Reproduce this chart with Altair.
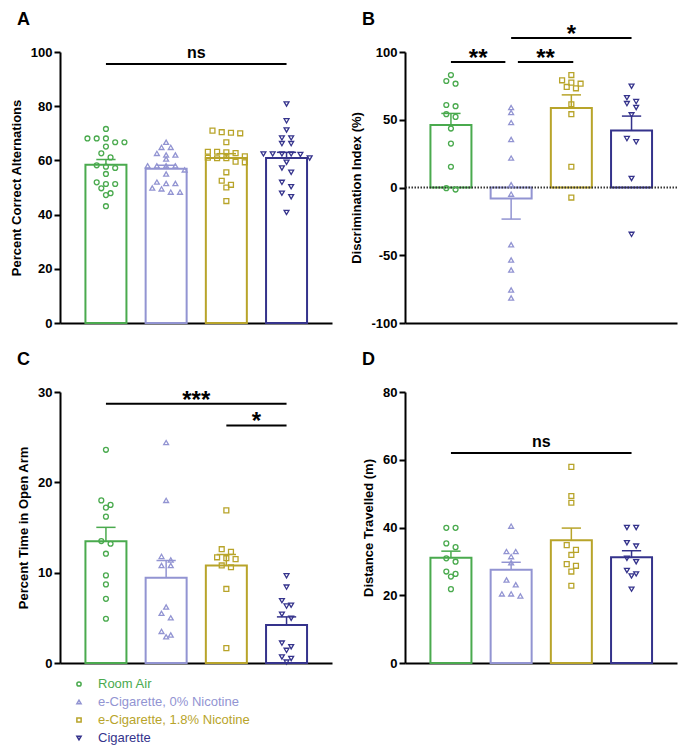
import altair as alt
import pandas as pd

FONT = "Liberation Sans"

groups = ["Room Air", "e-Cigarette, 0% Nicotine", "e-Cigarette, 1.8% Nicotine", "Cigarette"]
colors = ["#4aaa4e", "#9294d2", "#b8a42a", "#35338c"]
shapes = ["circle", "triangle-up", "square", "triangle-down"]

# Panel A: Percent Correct Alternations
a_room = [71.6, 68.1, 66.7, 68.1, 66.7, 68.1, 65.1, 62.6, 61.1, 58.2, 57.2, 57.7, 55.0, 51.3, 51.9, 51.3, 49.7, 47.9, 47.2, 43.1]
a_ecig0 = [66.7, 64.8, 64.8, 62.0, 62.6, 62.0, 60.5, 58.0, 58.0, 58.0, 58.0, 56.5, 55.0, 51.5, 52.0, 51.5, 49.8, 49.5, 48.3, 48.3]
a_ecig18 = [71.0, 70.4, 70.0, 70.2, 66.7, 63.2, 63.0, 62.7, 63.2, 61.5, 61.0, 60.8, 60.8, 59.3, 59.5, 55.6, 52.5, 51.0, 50.0, 45.0]
a_cig = [80.8, 74.6, 71.2, 68.3, 68.3, 66.2, 66.2, 62.4, 62.4, 62.2, 62.4, 62.4, 60.9, 59.3, 57.2, 55.6, 51.9, 50.3, 47.9, 46.6, 40.8]

# Panel B: Discrimination Index (%)
b_room = [83.0, 76.6, 78.6, 60.9, 60.0, 54.1, 52.1, 43.5, 32.4, 15.3, -1.5, -0.5]
b_ecig0 = [59.0, 55.3, 47.9, 35.4, 21.7, 2.0, -4.9, -42.2, -53.5, -60.9, -75.6, -81.5]
b_ecig18 = [83.0, 77.4, 76.6, 79.1, 73.2, 74.2, 61.4, 54.1, 15.3, -7.4]
b_cig = [74.7, 66.3, 61.9, 63.4, 59.0, 53.6, 33.7, 36.1, 6.6, -34.6]

# Panel C: Percent Time in Open Arm
c_room = [23.6, 17.5, 18.0, 17.2, 16.2, 13.5, 13.2, 12.1, 9.7, 8.7, 7.1, 4.9]
c_ecig0 = [24.4, 18.0, 11.4, 11.8, 10.8, 10.8, 6.2, 5.5, 5.0, 3.5, 2.9, 3.1]
c_ecig18 = [16.9, 12.6, 12.3, 11.5, 11.7, 11.6, 10.6, 10.8, 8.2, 1.65]
c_cig = [9.65, 8.4, 6.3, 6.4, 6.9, 5.4, 4.95, 2.2, 1.8, 1.4, 0.5, 0.66, 0.1]

# Panel D: Distance Travelled (m)
d_room = [39.9, 39.9, 34.2, 35.3, 30.9, 29.9, 27.0, 25.5, 26.3, 21.8]
d_ecig0 = [40.4, 32.9, 32.9, 31.4, 29.6, 24.5, 23.1, 19.8, 20.4, 20.4]
d_ecig18 = [57.9, 49.3, 47.3, 34.8, 33.4, 31.9, 29.2, 28.7, 27.0, 22.8]
d_cig = [40.0, 40.0, 34.5, 35.5, 30.9, 29.9, 27.3, 25.7, 26.3, 21.8]

# significance brackets: (from group, to group, level, label)
sig_a = [(0, 3, 95.6, "ns")]
sig_b = [(0, 1, 92.6, "**"), (1, 2, 92.6, "**"), (1, 3, 110.3, "*")]
sig_c = [(0, 3, 28.7, "***"), (2, 3, 26.3, "*")]
sig_d = [(0, 3, 62.0, "ns")]

W, H = 272, 271
XDOM = [-0.68, 3.672]
STEP = W / (XDOM[1] - XDOM[0])
GAP_PX = 9.6
ROW_PX = 5.0
CAP_PX = 10.0


def swarm_offsets(vals, ppu):
    order = sorted(range(len(vals)), key=lambda i: -vals[i])
    rows = []
    for i in order:
        if rows and (vals[rows[-1][0]] - vals[i]) * ppu < ROW_PX:
            rows[-1].append(i)
        else:
            rows.append([i])
    offs = [0.0] * len(vals)
    for r in rows:
        n = len(r)
        for k, i in enumerate(r):
            offs[i] = (k - (n - 1) / 2) * GAP_PX
    return offs


color_scale = alt.Scale(domain=groups, range=colors)
shape_scale = alt.Scale(domain=groups, range=shapes)
xscale = alt.Scale(domain=XDOM, nice=False, zero=False)
xaxis = alt.Axis(domainColor="black", domainWidth=2, ticks=False, labels=False, grid=False)


def make_panel(letter, series, ydom, yvals, ytitle, sigs, gaps=None, zero_line=False):
    ppu = H / (ydom[1] - ydom[0])
    recs = []
    for gi, vals in enumerate(series):
        offs = swarm_offsets(vals, ppu)
        for v, o in zip(vals, offs):
            recs.append({"group": groups[gi], "gi": gi, "value": v, "xp": gi + o / STEP})
    df = pd.DataFrame(recs)

    yscale = alt.Scale(domain=ydom, nice=False, zero=False)
    yaxis = alt.Axis(values=yvals, grid=False, domainColor="black", domainWidth=2,
                     tickColor="black", tickWidth=2, tickSize=6,
                     labelFont=FONT, labelFontSize=13, labelFontWeight="bold",
                     labelColor="black", labelPadding=2, labelExpr="'' + datum.value",
                     titleFont=FONT, titleFontSize=13, titleFontWeight="bold",
                     titleColor="black", titlePadding=7)

    def X(f):
        return alt.X(f, scale=xscale, axis=xaxis, title=None)

    def Y(f):
        return alt.Y(f, scale=yscale, axis=yaxis, title=ytitle)

    col = alt.Color("group:N", scale=color_scale, legend=None)

    bars = alt.Chart(df).mark_bar(fill="white", strokeWidth=2, width=41).encode(
        x=X("gi:Q"), y=Y("mean(value):Q"),
        stroke=alt.Stroke("group:N", scale=color_scale, legend=None))

    err = alt.Chart(df).transform_aggregate(
        m="mean(value)", se="stderr(value)", groupby=["group", "gi"]
    ).transform_calculate(
        hi="datum.m >= 0 ? datum.m + datum.se : datum.m - datum.se",
        l="datum.gi - %f" % (CAP_PX / STEP),
        r="datum.gi + %f" % (CAP_PX / STEP),
    )
    stem = err.mark_rule(strokeWidth=1.5).encode(x=X("gi:Q"), y=Y("m:Q"), y2=alt.Y2("hi:Q"), color=col)
    cap = err.mark_rule(strokeWidth=1.5).encode(x=X("l:Q"), x2=alt.X2("r:Q"), y=Y("hi:Q"), color=col)

    pts = alt.Chart(df).mark_point(filled=False, size=24, strokeWidth=1.3, opacity=1).encode(
        x=X("xp:Q"), y=Y("value:Q"), color=col,
        shape=alt.Shape("group:N", scale=shape_scale, legend=None))

    srec = []
    for k, (g1, g2, lev, lab) in enumerate(sigs):
        d1, d2 = (gaps[k] if gaps else (0, 0))
        x1 = g1 + d1 / STEP
        x2 = g2 + d2 / STEP
        srec.append({"x1": x1, "x2": x2, "xm": (x1 + x2) / 2, "lev": lev, "lab": lab,
                     "kind": "ns" if lab == "ns" else "star"})
    sdf = pd.DataFrame(srec)
    lines = alt.Chart(sdf).mark_rule(strokeWidth=2, color="black").encode(
        x=X("x1:Q"), x2=alt.X2("x2:Q"), y=Y("lev:Q"))
    t_ns = alt.Chart(sdf).transform_filter("datum.kind == 'ns'").mark_text(
        font=FONT, fontSize=16, fontWeight="bold", color="black", dy=-6, baseline="alphabetic"
    ).encode(x=X("xm:Q"), y=Y("lev:Q"), text="lab:N")
    t_st = alt.Chart(sdf).transform_filter("datum.kind == 'star'").mark_text(
        font=FONT, fontSize=24, fontWeight="bold", color="black", dy=4, baseline="alphabetic"
    ).encode(x=X("xm:Q"), y=Y("lev:Q"), text="lab:N")

    let = alt.Chart(pd.DataFrame({"t": [letter]})).mark_text(
        font=FONT, fontSize=18, fontWeight="bold", color="black", align="left", baseline="alphabetic"
    ).encode(text="t:N", x=alt.value(-43), y=alt.value(-27))

    layers = [bars]
    if zero_line:
        zl = alt.Chart(pd.DataFrame({"z": [0]})).mark_rule(
            strokeDash=[1.5, 1.5], strokeWidth=2, color="#333333").encode(y=Y("z:Q"))
        layers.append(zl)
    layers += [stem, cap, pts, lines, t_ns, t_st, let]
    return alt.layer(*layers).properties(width=W, height=H)


pA = make_panel("A", [a_room, a_ecig0, a_ecig18, a_cig], [0, 100], [0, 20, 40, 60, 80, 100],
                "Percent Correct Alternations", sig_a)
pB = make_panel("B", [b_room, b_ecig0, b_ecig18, b_cig], [-100, 100], [-100, -50, 0, 50, 100],
                "Discrimination Index (%)", sig_b, gaps=[(0, -6), (7, 2), (0, 0)], zero_line=True)
pC = make_panel("C", [c_room, c_ecig0, c_ecig18, c_cig], [0, 30], [0, 10, 20, 30],
                "Percent Time in Open Arm", sig_c)
pD = make_panel("D", [d_room, d_ecig0, d_ecig18, d_cig], [0, 80], [0, 20, 40, 60, 80],
                "Distance Travelled (m)", sig_d)

grid = alt.concat(pA, pB, pC, pD, columns=2, spacing={"row": 21, "column": 18})

leg_df = pd.DataFrame({"group": groups})
leg_y = alt.Y("group:N", sort=groups, axis=None, scale=alt.Scale(domain=groups))
leg_col = alt.Color("group:N", scale=color_scale, legend=None)
leg_pts = alt.Chart(leg_df).mark_point(filled=False, size=18, strokeWidth=1.5, opacity=1).encode(
    x=alt.value(19), y=leg_y, color=leg_col,
    shape=alt.Shape("group:N", scale=shape_scale, legend=None))
leg_txt = alt.Chart(leg_df).mark_text(font=FONT, fontSize=13, align="left", baseline="middle").encode(
    x=alt.value(38), y=leg_y, text="group:N", color=leg_col)
legend = alt.layer(leg_pts, leg_txt).properties(width=272, height=72)

chart = alt.vconcat(grid, legend, spacing=5).properties(
    padding={"left": 2, "top": 3, "right": 2, "bottom": 2}
).configure_view(strokeWidth=0)

chart.save("out.html", embed_options={"renderer": "svg", "actions": False})
